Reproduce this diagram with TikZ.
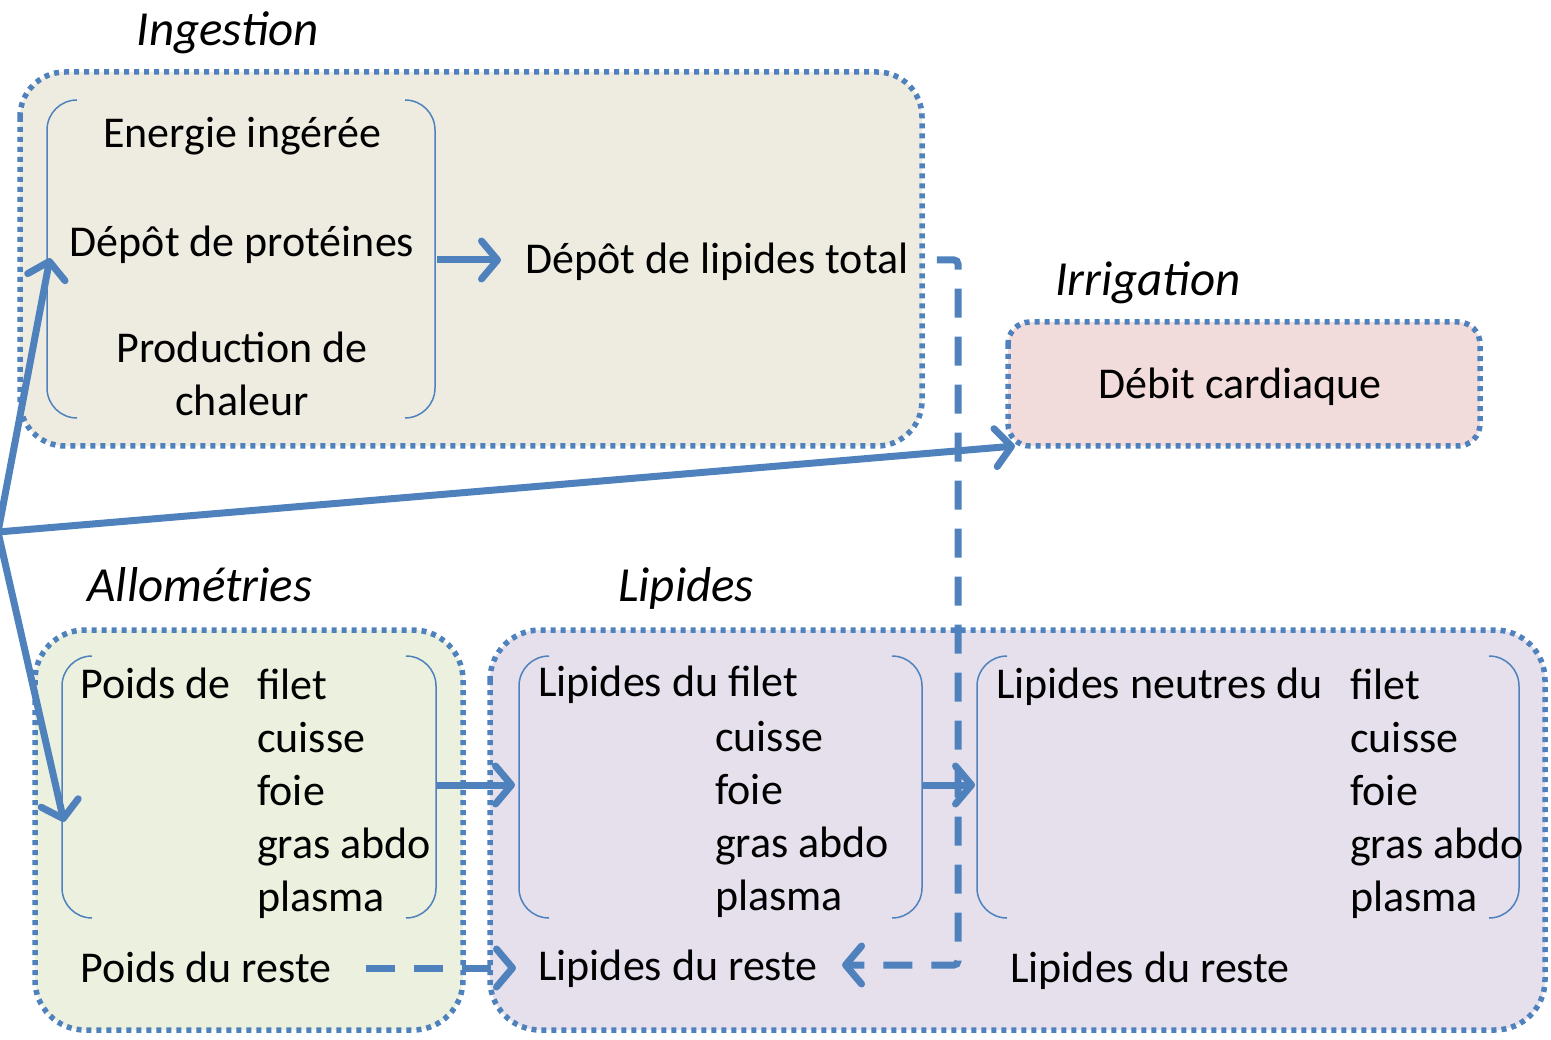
\documentclass[tikz,border=0pt]{standalone}
\usepackage{fontspec}
\setmainfont{Carlito}
\usetikzlibrary{arrows.meta}

\definecolor{bordblue}{RGB}{79,129,189}
\definecolor{ingfill}{RGB}{238,236,225}
\definecolor{irrfill}{RGB}{242,220,219}
\definecolor{allfill}{RGB}{235,241,222}
\definecolor{lipfill}{RGB}{229,224,236}

\tikzset{
  zone/.style={draw=bordblue, line width=5.5pt, dash pattern=on 5pt off 5pt, rounded corners=#1},
  brk/.style={draw=bordblue, line width=1.5pt, rounded corners=30pt},
  txt/.style={inner sep=0pt, font=\fontsize{44}{53}\selectfont},
  ttl/.style={inner sep=0pt, font=\fontsize{49}{53}\selectfont\itshape},
  flow/.style={draw=bordblue, line width=7pt, -{Straight Barb[length=16pt,width=38pt,round]}},
  dflow/.style={flow, dash pattern=on 29pt off 19pt}
}

\newcommand{\bracketbox}[4]{%
  \draw[brk] (#1+30,#2) -- (#1,#2) -- (#1,#4) -- (#1+30,#4);
  \draw[brk] (#3-30,#2) -- (#3,#2) -- (#3,#4) -- (#3-30,#4);}

\begin{document}
\begin{tikzpicture}[x=1pt,y=-1pt]
\useasboundingbox (0,0) rectangle (1551,1040);

\draw[zone=45pt, fill=ingfill] (20,72) rectangle (922,446);
\draw[zone=22pt, fill=irrfill] (1008,322) rectangle (1480,446);
\draw[zone=50pt, fill=allfill] (35,630) rectangle (463,1030);
\draw[zone=50pt, fill=lipfill] (490,630) rectangle (1545,1030);

\bracketbox{47}{100}{435}{418}
\bracketbox{62}{656}{436}{918}
\bracketbox{519}{656}{922}{918}
\bracketbox{977}{656}{1519}{918}

\node[ttl, anchor=base] (ingt) at (228,46) {Ingestion};
\node[ttl, anchor=base] (irrt) at (1148,296) {Irrigation};
\node[ttl, anchor=base] (allt) at (200,601) {Allométries};
\node[ttl, anchor=base] (lipt) at (686,601) {Lipides};

\node[txt, anchor=base] (energie) at (242,148) {Energie ingérée};
\node[txt, anchor=base] (proteines) at (242,257) {Dépôt de protéines};
\node[txt, anchor=base, align=center] (chaleur) at (242,416) {Production de\\chaleur};
\node[txt, anchor=base west] (lipidtot) at (525,274) {Dépôt de lipides total};
\node[txt, anchor=base] (debit) at (1240,399) {Débit cardiaque};

\node[txt, anchor=base west] (poids) at (80,698) {Poids de};
\node[txt, anchor=base west, align=left] (organes1) at (257,911) {filet\\cuisse\\foie\\gras abdo\\plasma};
\node[txt, anchor=base west] (poidsreste) at (80,982) {Poids du reste};

\node[txt, anchor=base west] (lipfilet) at (538,696) {Lipides du filet};
\node[txt, anchor=base west, align=left] (organes2) at (715,910) {cuisse\\foie\\gras abdo\\plasma};
\node[txt, anchor=base west] (lipreste) at (538,980) {Lipides du reste};

\node[txt, anchor=base west] (lipneutres) at (996,698) {Lipides neutres du};
\node[txt, anchor=base west, align=left] (organes3) at (1350,911) {filet\\cuisse\\foie\\gras abdo\\plasma};
\node[txt, anchor=base west] (neutreste) at (1010,982) {Lipides du reste};

\coordinate (src) at (-2,532);
\coordinate (ingin) at (50,258);
\coordinate (allin) at (64,822);
\coordinate (irrin) at (1015,446);
\coordinate (ingout) at (437,260);
\coordinate (allout) at (437,785);
\coordinate (lipin) at (515,785);
\coordinate (lipout) at (922,785);
\coordinate (neutin) at (975,785);
\coordinate (reste) at (366,968);
\coordinate (turn1) at (958,260);
\coordinate (turn2) at (958,965);

\draw[flow] (src) -- (ingin);
\draw[flow] (src) -- (allin);
\draw[flow] (src) -- (irrin);
\draw[flow, shorten >=24pt] (ingout) -- (ingout -| lipidtot.west);
\draw[flow] (allout) -- (lipin);
\draw[flow] (lipout) -- (neutin);
\draw[dflow, shorten >=22pt] (reste) -- (lipreste.west |- reste);
\draw[dflow, rounded corners=4pt, shorten >=24pt] (lipidtot.east |- turn1) ++(28,0) -- (turn1) -- (turn2) -- (lipreste.east |- turn2);
\end{tikzpicture}
\end{document}
